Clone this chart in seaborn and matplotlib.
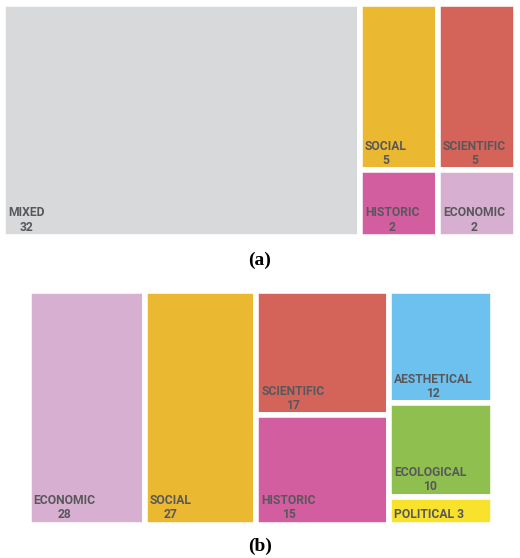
import numpy as np
import pandas as pd
import matplotlib
matplotlib.use("Agg")
import matplotlib.pyplot as plt
import seaborn as sns

# panel (a)
a_labels = ["MIXED", "SOCIAL", "HISTORIC", "SCIENTIFIC", "ECONOMIC"]
a_values = [32, 5, 2, 5, 2]
a_columns = [0, 1, 1, 2, 2]

# panel (b)
b_labels = ["ECONOMIC", "SOCIAL", "SCIENTIFIC", "HISTORIC", "AESTHETICAL", "ECOLOGICAL", "POLITICAL"]
b_values = [28, 27, 17, 15, 12, 10, 3]
b_columns = [0, 1, 2, 2, 3, 3, 3]

colors = {
    "MIXED": "#d8d9db",
    "SOCIAL": "#ebb931",
    "SCIENTIFIC": "#d46459",
    "HISTORIC": "#d35e9f",
    "ECONOMIC": "#d7afd0",
    "AESTHETICAL": "#6cc1ef",
    "ECOLOGICAL": "#8fbf4f",
    "POLITICAL": "#f9e22b",
}

sns.set_theme(style="white")
plt.rcParams['font.family'] = ['Roboto', 'DejaVu Sans']

W, H = 520, 558
fig = plt.figure(figsize=(W / 100, H / 100), dpi=100)
fig.patch.set_facecolor("white")

text_col = "#58585c"
gap = 4.0  # white border in points


def treemap(rect, labels, values, columns, caption, cap_y):
    # rect in pixels: left, top, right, bottom
    l, t, r, b = rect
    ax = fig.add_axes([l / W, 1 - b / H, (r - l) / W, (b - t) / H])
    df = pd.DataFrame({"label": labels, "value": values, "col": columns})
    total = df["value"].sum()
    col_tot = df.groupby("col")["value"].sum()
    col_left = col_tot.cumsum() - col_tot
    df["x0"] = df["col"].map(col_left)
    df["w"] = df["col"].map(col_tot)
    df["h"] = df["value"] / df["w"]
    df["y0"] = df.groupby("col")["h"].cumsum() - df["h"]
    ax.bar(df["x0"], df["h"], width=df["w"], bottom=df["y0"], align="edge",
           color=[colors[c] for c in df["label"]], edgecolor="white", linewidth=gap)
    ax.set_xlim(0, total)
    ax.set_ylim(1, 0)
    ax.axis("off")
    px_h = b - t
    for _, row in df.iterrows():
        if row["h"] * px_h < 35:
            txt = f"{row['label']} {row['value']}"
        else:
            txt = f"{row['label']}\n{row['value']}"
        ax.annotate(txt, (row["x0"], row["y0"] + row["h"]), xytext=(5, 3.5),
                    textcoords="offset pixels", ha="left", va="bottom",
                    multialignment="center", fontsize=8.7, fontweight="bold",
                    color=text_col, linespacing=1.12)
    fig.text(0.5, 1 - cap_y / H, caption, ha="center", va="center",
             fontsize=14, fontweight="bold", family="Liberation Serif", color="black")


treemap((3, 4, 516, 237), a_labels, a_values, a_columns, "(a)", 260)
treemap((28.5, 291, 492.5, 525), b_labels, b_values, b_columns, "(b)", 546)

fig.savefig("out.png", dpi=100)
